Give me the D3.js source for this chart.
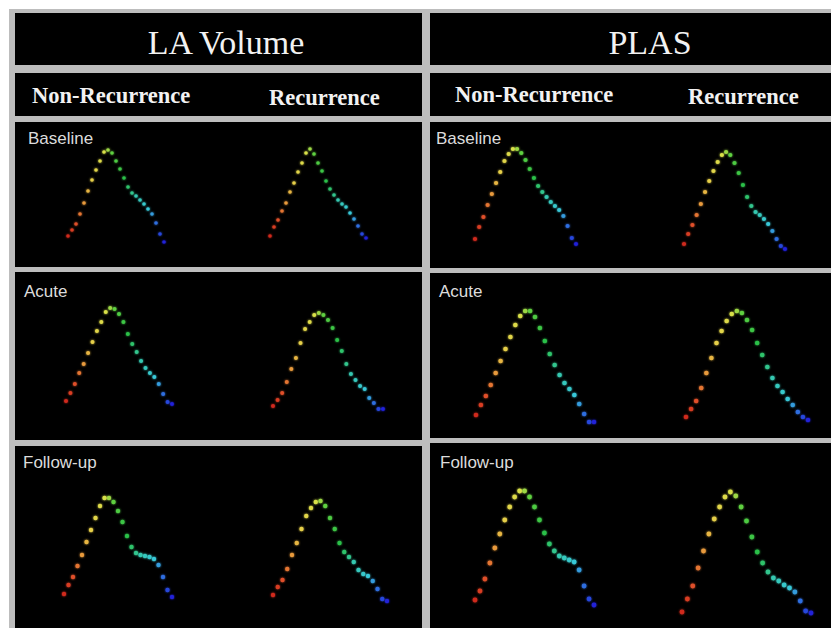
<!DOCTYPE html>
<html>
<head>
<meta charset="utf-8">
<script src="https://cdn.jsdelivr.net/npm/d3@7"></script>
<style>
  html, body { margin: 0; padding: 0; background: #fff; }
  svg { display: block; }
</style>
</head>
<body>
<div id="svg-container"></div>
<script>
// column / row headings
const measures = ["LA Volume", "PLAS"];
const groups = ["Non-Recurrence", "Recurrence"];
const phases = ["Baseline", "Acute", "Follow-up"];

// 25 frames per curve (arbitrary units)
const frameCount = 25;

const laBaselineNonRec = [24, 30, 36, 46, 57, 69, 80, 90, 99, 108, 110, 107, 99, 91, 82, 73, 67, 64, 60, 56, 51, 46, 37, 26, 18];
const laBaselineRec    = [24, 33, 40, 49, 57, 68, 77, 88, 97, 107, 111, 106, 97, 89, 79, 71, 65, 60, 56, 53, 47, 41, 34, 26, 22];
const laAcuteNonRec    = [29, 37, 46, 57, 66, 77, 88, 99, 108, 118, 122, 121, 116, 108, 96, 86, 78, 69, 62, 57, 53, 46, 36, 28, 26];
const laAcuteRec       = [24, 30, 37, 48, 61, 72, 87, 101, 108, 115, 117, 115, 110, 102, 90, 79, 66, 56, 50, 44, 41, 32, 27, 21, 21];
const laFollowNonRec   = [26, 35, 43, 54, 65, 78, 90, 102, 114, 122, 122, 118, 109, 98, 84, 73, 67, 65, 64, 63, 61, 55, 43, 30, 23];
const laFollowRec      = [25, 33, 40, 51, 65, 77, 91, 104, 112, 118, 119, 114, 102, 91, 77, 68, 63, 58, 50, 46, 44, 39, 31, 21, 19];

const plasBaselineNonRec = [21, 33, 43, 55, 66, 77, 88, 99, 106, 111, 111, 107, 100, 91, 82, 74, 68, 63, 58, 54, 50, 44, 34, 22, 16];
const plasBaselineRec    = [16, 26, 35, 45, 56, 68, 79, 89, 98, 105, 108, 105, 97, 87, 75, 63, 54, 48, 45, 41, 36, 29, 21, 14, 11];
const plasAcuteNonRec    = [15, 25, 34, 45, 57, 69, 81, 93, 105, 114, 119, 119, 113, 102, 89, 76, 65, 55, 47, 41, 35, 26, 16, 8, 8];
const plasAcuteRec       = [13, 21, 29, 42, 57, 72, 87, 99, 109, 116, 119, 117, 110, 100, 87, 75, 63, 52, 44, 38, 31, 25, 18, 13, 10];
const plasFollowNonRec   = [20, 29, 41, 57, 72, 86, 100, 113, 123, 129, 129, 123, 113, 100, 87, 76, 69, 64, 62, 60, 58, 50, 34, 21, 15];
const plasFollowRec      = [8, 21, 34, 52, 69, 86, 101, 113, 123, 128, 124, 113, 99, 83, 68, 57, 48, 42, 39, 35, 32, 28, 19, 9, 7];

const series = [
  [[laBaselineNonRec, laBaselineRec], [plasBaselineNonRec, plasBaselineRec]],
  [[laAcuteNonRec, laAcuteRec], [plasAcuteNonRec, plasAcuteRec]],
  [[laFollowNonRec, laFollowRec], [plasFollowNonRec, plasFollowRec]]
];

function drawSvg() {
  const w = 831;
  const h = 628;

  const svg = d3.select("div#svg-container")
    .append("svg")
    .attr("width", w)
    .attr("height", h);

  /** gray frame behind all panels */
  svg.append("rect")
    .attr("x", 9).attr("y", 9)
    .attr("width", w - 9).attr("height", h - 9)
    .attr("fill", "#bdbdbd");

  // column boxes
  const cols = [
    {x0: 15, x1: 422, titleX: 226, sub: [{x: 32, y: 103}, {x: 269, y: 105}]},
    {x0: 430, x1: 831, titleX: 650, sub: [{x: 455, y: 102}, {x: 688, y: 104}]}
  ];
  // row boxes per column
  const rows = [
    [{y0: 122, y1: 267, label: [28, 144]}, {y0: 272, y1: 440, label: [24, 297]}, {y0: 446, y1: 628, label: [23, 468]}],
    [{y0: 122, y1: 268, label: [436, 144]}, {y0: 273, y1: 438, label: [439, 297]}, {y0: 443, y1: 628, label: [440, 468]}]
  ];
  // x extents of each curve [phase][measure][group]
  const xExt = [
    [[[68, 164], [270, 366]], [[475, 576], [684, 785]]],
    [[[66, 172], [273, 383]], [[476, 594], [686, 808]]],
    [[[64, 172], [273, 387]], [[475, 594], [682, 811]]]
  ];
  const rowRef = [260, 430, 620];
  const dotR = [[1.8, 2.1], [2.0, 2.3], [2.2, 2.4]];

  const color = d3.scaleLinear()
    .domain([0, 2, 4, 6, 9, 11, 14, 17, 20, 22, 24])
    .range(["#d02a1e", "#e0502a", "#e89a3c", "#e6cf48", "#d8e048", "#5fd040", "#2cc048", "#35c8b0", "#38c8d8", "#2f6ee0", "#2020d8"])
    .interpolate(d3.interpolateRgb);

  /** soft glow around dots */
  const defs = svg.append("defs");
  const glow = defs.append("filter")
    .attr("id", "glow")
    .attr("x", "-100%").attr("y", "-100%")
    .attr("width", "300%").attr("height", "300%");
  glow.append("feGaussianBlur").attr("stdDeviation", 1.1).attr("result", "b");
  const merge = glow.append("feMerge");
  merge.append("feMergeNode").attr("in", "b");
  merge.append("feMergeNode").attr("in", "SourceGraphic");

  cols.forEach((c, ci) => {
    // header
    svg.append("rect")
      .attr("x", c.x0).attr("y", 13)
      .attr("width", c.x1 - c.x0).attr("height", 52)
      .attr("fill", "#000");
    svg.append("text")
      .attr("x", c.titleX)
      .attr("y", 54)
      .style("text-anchor", "middle")
      .style("font-family", "'Liberation Serif', 'Times New Roman', serif")
      .style("font-size", "34px")
      .attr("fill", "#f2f2f2")
      .text(measures[ci]);

    // sub header
    svg.append("rect")
      .attr("x", c.x0).attr("y", 73)
      .attr("width", c.x1 - c.x0).attr("height", 43)
      .attr("fill", "#000");
    groups.forEach((g, gi) => {
      svg.append("text")
        .attr("x", c.sub[gi].x)
        .attr("y", c.sub[gi].y)
        .style("font-family", "'Liberation Serif', 'Times New Roman', serif")
        .style("font-weight", "bold")
        .style("font-size", "22.5px")
        .attr("fill", "#f2f2f2")
        .text(g);
    });

    // phase panels
    phases.forEach((p, pi) => {
      const r = rows[ci][pi];
      svg.append("rect")
        .attr("x", c.x0).attr("y", r.y0)
        .attr("width", c.x1 - c.x0).attr("height", r.y1 - r.y0)
        .attr("fill", "#000");
      svg.append("text")
        .attr("x", r.label[0])
        .attr("y", r.label[1])
        .style("font-family", "'Liberation Sans', Arial, sans-serif")
        .style("font-size", "17px")
        .attr("fill", "#dcdcdc")
        .text(p);

      const yScale = d3.scaleLinear()
        .domain([0, 100])
        .range([rowRef[pi], rowRef[pi] - 100]);

      groups.forEach((g, gi) => {
        const xScale = d3.scaleLinear()
          .domain([0, frameCount - 1])
          .range(xExt[pi][ci][gi]);

        svg.append("g")
          .attr("class", "curve")
          .attr("filter", "url(#glow)")
          .selectAll("circle")
          .data(series[pi][ci][gi])
          .enter()
          .append("circle")
          .attr("cx", (d, i) => xScale(i))
          .attr("cy", (d) => yScale(d))
          .attr("r", dotR[pi][ci])
          .attr("fill", (d, i) => color(i));
      });
    });
  });
}

drawSvg();
</script>
</body>
</html>
